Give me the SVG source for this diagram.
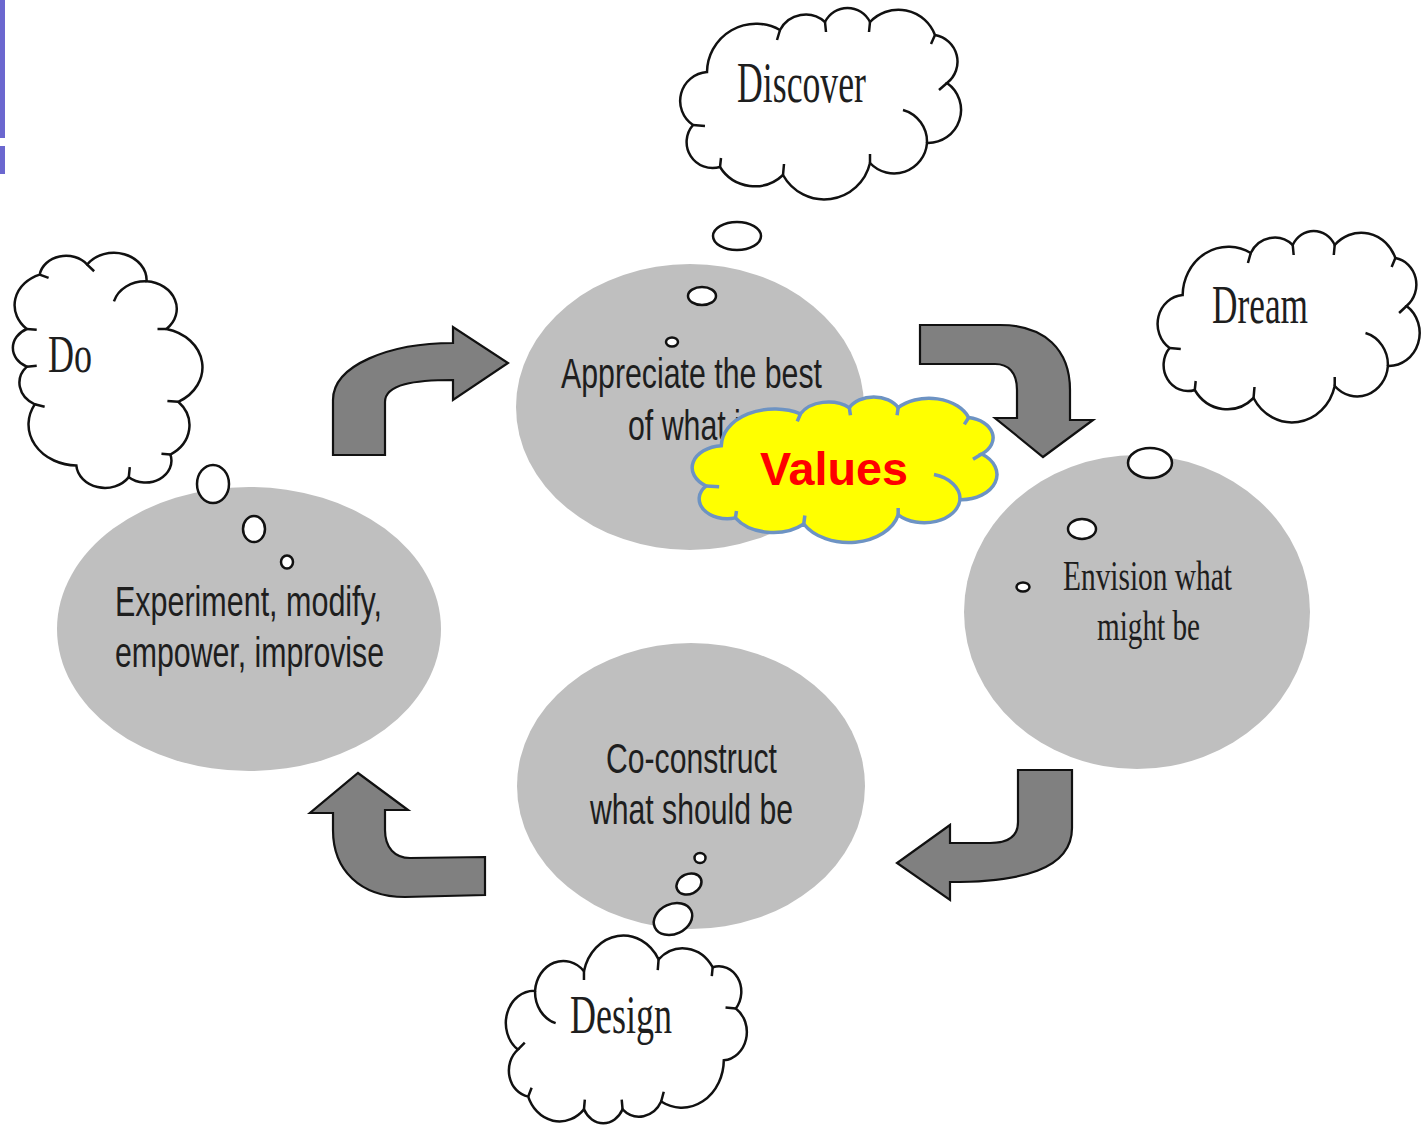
<svg xmlns="http://www.w3.org/2000/svg" xmlns:xlink="http://www.w3.org/1999/xlink" width="1423" height="1125" viewBox="0 0 1423 1125">
<defs>
<style>
.stage{fill:#bfbfbf}
.arrow{fill:#808080;stroke:#111;stroke-width:2.2;stroke-linejoin:miter}
.bubble{fill:#fff;stroke:#111;stroke-width:2.5}
.thought{fill:#fff;stroke:#111;stroke-width:2.5}
.hooks{fill:none;stroke:#111;stroke-width:2.5}
.valcloud{fill:#ffff00;stroke:#6d93c3;stroke-width:3.5}
.valhooks{fill:none;stroke:#6d93c3;stroke-width:3.5}
.sans{font-family:"Liberation Sans",Arial,sans-serif;font-size:42px;fill:#1e1e1e}
.serif{font-family:"Liberation Serif","Times New Roman",serif;fill:#1e1e1e}
.values{font-family:"Liberation Sans",Arial,sans-serif;font-size:46px;font-weight:bold;fill:#ff0000}
</style>
<path id="cloud" vector-effect="non-scaling-stroke" d="M-114,-32 A29,29 0 0 0 -128,21 A26,26 0 0 0 -101,63 A41,41 0 0 0 -38,71 A47,47 0 0 0 49,59 A33,33 0 0 0 106,39 A33,33 0 0 0 126,-21 A27,27 0 0 0 114,-69 A39,39 0 0 0 49,-82 A25,25 0 0 0 4,-82 A29,29 0 0 0 -41,-74 A49,49 0 0 0 -114,-32 Z"/>
<path id="cloudHooks" vector-effect="non-scaling-stroke" d="M82,6 A33,33 0 0 1 106,39 M-128,21 L-116,22 M-101,63 L-100,54 M-38,71 L-37,60 M49,59 L49,50 M126,-21 L118,-14 M114,-69 L110,-60 M49,-82 L48,-72 M4,-82 L5,-72 M-41,-74 L-44,-64"/>
</defs>

<rect x="0" y="0" width="1423" height="1125" fill="#fff"/>
<rect x="0" y="0" width="5" height="138" fill="#6b67cf"/>
<rect x="0" y="146" width="5" height="28" fill="#6b67cf"/>

<g id="node-appreciate">
<ellipse class="stage" cx="690" cy="407" rx="174" ry="143"/>
<text class="sans" x="561" y="388" textLength="261" lengthAdjust="spacingAndGlyphs">Appreciate the best</text>
<text class="sans" x="628" y="440" textLength="128" lengthAdjust="spacingAndGlyphs">of what is</text>
</g>

<g id="node-envision">
<ellipse class="stage" cx="1137" cy="612" rx="173" ry="157"/>
<text class="serif" font-size="42" x="1063" y="590" textLength="169" lengthAdjust="spacingAndGlyphs">Envision what</text>
<text class="serif" font-size="42" x="1097" y="640" textLength="103" lengthAdjust="spacingAndGlyphs">might be</text>
</g>

<g id="node-coconstruct">
<ellipse class="stage" cx="691" cy="786" rx="174" ry="143"/>
<text class="sans" x="606" y="773" textLength="171" lengthAdjust="spacingAndGlyphs">Co-construct</text>
<text class="sans" x="590" y="824" textLength="203" lengthAdjust="spacingAndGlyphs">what should be</text>
</g>

<g id="node-experiment">
<ellipse class="stage" cx="249" cy="629" rx="192" ry="142"/>
<text class="sans" x="115" y="616" textLength="267" lengthAdjust="spacingAndGlyphs">Experiment, modify,</text>
<text class="sans" x="115" y="667" textLength="269" lengthAdjust="spacingAndGlyphs">empower, improvise</text>
</g>

<g id="connectors">
<path class="arrow" d="M333,455 L333,400 C333,365 390,343 453,343 L453,327 L508,363 L453,400 L453,380 C415,380 385,384 385,402 L385,455 Z"/>
<path class="arrow" d="M920,325 L1000,325 C1045,325 1070,350 1070,390 L1070,420 L1093,420 L1043,457 L995,418 L1017,418 L1017,390 C1017,372 1008,364 995,364 L920,364 Z"/>
<path class="arrow" d="M1018,770 L1072,770 L1072,828 C1072,870 1020,882 950,882 L950,900 L897,863 L950,825 L950,843 L990,843 C1010,843 1018,835 1018,822 Z"/>
<path class="arrow" d="M485,857 L485,895 L405,897 C360,897 333,870 333,830 L333,813 L310,813 L358,773 L408,810 L385,810 L385,830 C385,848 395,858 410,858 Z"/>
</g>

<g id="cloud-discover">
<ellipse class="bubble" cx="737" cy="236" rx="24" ry="14"/>
<ellipse class="bubble" cx="702" cy="296" rx="14" ry="9"/>
<ellipse class="bubble" cx="672" cy="342" rx="6" ry="4.5"/>
<g transform="translate(821,104)">
<use xlink:href="#cloud" class="thought"/>
<use xlink:href="#cloudHooks" class="hooks"/>
</g>
<text class="serif" font-size="56" x="737" y="102" textLength="129" lengthAdjust="spacingAndGlyphs">Discover</text>
</g>

<g id="cloud-dream">
<ellipse class="bubble" cx="1150" cy="463" rx="22" ry="15"/>
<ellipse class="bubble" cx="1082" cy="529" rx="14" ry="10"/>
<ellipse class="bubble" cx="1023" cy="587" rx="6.5" ry="4.5"/>
<g transform="translate(1289,327) scale(0.933,1)">
<use xlink:href="#cloud" class="thought"/>
<use xlink:href="#cloudHooks" class="hooks"/>
</g>
<text class="serif" font-size="54" x="1212" y="323" textLength="96" lengthAdjust="spacingAndGlyphs">Dream</text>
</g>

<g id="cloud-design">
<ellipse class="bubble" cx="700" cy="858" rx="5.5" ry="5"/>
<ellipse class="bubble" cx="689" cy="884" rx="13" ry="10" transform="rotate(-25 689 884)"/>
<ellipse class="bubble" cx="673" cy="919" rx="20" ry="15" transform="rotate(-25 673 919)"/>
<g transform="translate(626,1029) rotate(180) scale(0.858,0.98)">
<use xlink:href="#cloud" class="thought"/>
<use xlink:href="#cloudHooks" class="hooks"/>
</g>
<text class="serif" font-size="55" x="570" y="1033" textLength="102" lengthAdjust="spacingAndGlyphs">Design</text>
</g>

<g id="cloud-do">
<ellipse class="bubble" cx="213" cy="484" rx="16" ry="19"/>
<ellipse class="bubble" cx="254" cy="529" rx="11" ry="13"/>
<ellipse class="bubble" cx="287" cy="562" rx="6" ry="6.5"/>
<g transform="translate(108,370) rotate(-90) scale(0.837,0.99)">
<use xlink:href="#cloud" class="thought"/>
<use xlink:href="#cloudHooks" class="hooks"/>
</g>
<text class="serif" font-size="53" x="48" y="372" textLength="44" lengthAdjust="spacingAndGlyphs">Do</text>
</g>

<g id="cloud-values">
<g transform="translate(845,470) scale(1.085,0.76)">
<use xlink:href="#cloud" class="valcloud"/>
<use xlink:href="#cloudHooks" class="valhooks"/>
</g>
<text class="values" x="760" y="485" textLength="148" lengthAdjust="spacingAndGlyphs">Values</text>
</g>
</svg>
